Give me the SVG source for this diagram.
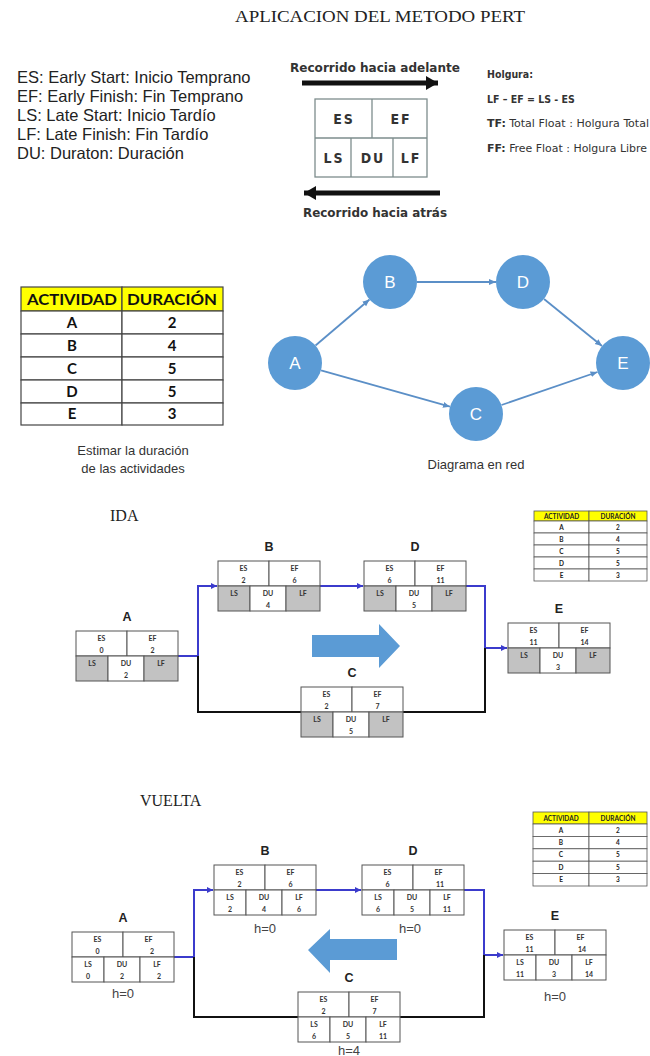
<svg xmlns="http://www.w3.org/2000/svg" width="650" height="1056" viewBox="0 0 650 1056">
<style>
.title{font-family:"Liberation Serif",serif;font-size:16px;fill:#222}
.sec{font-family:"Liberation Serif",serif;font-size:16px;fill:#222}
.leg{font-family:"Liberation Sans",Arial,sans-serif;font-size:16.5px;fill:#222}
.rec{font-family:"DejaVu Sans Condensed","DejaVu Sans",sans-serif;font-weight:bold;font-size:12.5px;fill:#333;text-anchor:middle}
.hol{font-family:"DejaVu Sans Condensed","DejaVu Sans",sans-serif;font-size:10.5px;fill:#333}
.holb{font-weight:bold}
.kb{fill:#fff;stroke:#7d8d8d;stroke-width:1.3}
.kt{font-family:"DejaVu Sans Condensed","DejaVu Sans",sans-serif;font-weight:bold;font-size:14px;fill:#333;text-anchor:middle;letter-spacing:2px}
.tb{fill:#fff;stroke:#444;stroke-width:1.2}
.th{fill:#ffff00;stroke:#444;stroke-width:1.2}
.tt{font-family:Lato,"Open Sans",sans-serif;font-weight:bold;font-size:15px;fill:#111;text-anchor:middle}
.st{font-family:Lato,"Open Sans",sans-serif;font-weight:bold;font-size:6.5px;fill:#222;text-anchor:middle}
.sb{fill:#fff;stroke:#555;stroke-width:0.8}
.sh{fill:#ffff00;stroke:#555;stroke-width:0.8}
.cap{font-family:"Liberation Sans",Arial,sans-serif;font-size:13px;fill:#333;text-anchor:middle}
.circ{fill:#5b9bd5}
.ct{font-family:"Liberation Sans",Arial,sans-serif;font-size:17px;fill:#fff;text-anchor:middle}
.net{stroke:#5b8fc7;stroke-width:1.8;fill:none;marker-end:url(#na)}
.c{fill:#fff;stroke:#555;stroke-width:1}
.g{fill:#c2c2c2;stroke:#555;stroke-width:1}
.t{font-family:Lato,"Open Sans",sans-serif;font-weight:bold;font-size:7px;fill:#333;text-anchor:middle}
.nl{font-family:"Liberation Sans",Arial,sans-serif;font-weight:bold;font-size:12.5px;fill:#222;text-anchor:middle}
.h{font-family:"Liberation Sans",Arial,sans-serif;font-size:13px;fill:#444;text-anchor:middle}
.bl{stroke:#3b3bcc;stroke-width:2;fill:none}
.blk{stroke:#111;stroke-width:2;fill:none}
.big{fill:#5b9bd5}
</style>
<defs>
<marker id="na" markerWidth="8" markerHeight="8" refX="7" refY="4" orient="auto" markerUnits="userSpaceOnUse"><path d="M0,1 L7,4 L0,7 z" fill="#5b8fc7"/></marker>
<marker id="ba" markerWidth="7" markerHeight="7" refX="6" refY="3.5" orient="auto" markerUnits="userSpaceOnUse"><path d="M0,0.5 L6,3.5 L0,6.5 z" fill="#3b3bcc"/></marker>
<marker id="ka" markerWidth="14" markerHeight="14" refX="12" refY="7" orient="auto" markerUnits="userSpaceOnUse"><path d="M0,0 L12,7 L0,14 z" fill="#111"/></marker>
</defs>
<rect width="650" height="1056" fill="#fff"/>

<text class="title" x="380" y="22" text-anchor="middle" textLength="290" lengthAdjust="spacingAndGlyphs">APLICACION DEL METODO PERT</text>

<g id="legend">
<text class="leg" x="17" y="83">ES: Early Start: Inicio Temprano</text>
<text class="leg" x="17" y="102">EF: Early Finish: Fin Temprano</text>
<text class="leg" x="17" y="121">LS: Late Start: Inicio Tardío</text>
<text class="leg" x="17" y="140">LF: Late Finish: Fin Tardío</text>
<text class="leg" x="17" y="159">DU: Duraton: Duración</text>
</g>

<g id="key">
<text class="rec" x="375" y="72" textLength="170" lengthAdjust="spacingAndGlyphs">Recorrido hacia adelante</text>
<line x1="302" y1="83" x2="438" y2="83" stroke="#111" stroke-width="5" marker-end="url(#ka)"/>
<rect class="kb" x="315" y="99" width="112" height="78"/>
<line class="kb" x1="315" y1="138" x2="427" y2="138"/>
<line class="kb" x1="372" y1="99" x2="372" y2="138"/>
<line class="kb" x1="351" y1="138" x2="351" y2="177"/>
<line class="kb" x1="393" y1="138" x2="393" y2="177"/>
<text class="kt" x="344" y="124">ES</text>
<text class="kt" x="401" y="124">EF</text>
<text class="kt" x="334" y="163">LS</text>
<text class="kt" x="373" y="163">DU</text>
<text class="kt" x="411" y="163">LF</text>
<line x1="440" y1="193" x2="304" y2="193" stroke="#111" stroke-width="5" marker-end="url(#ka)"/>
<text class="rec" x="375" y="217" textLength="144" lengthAdjust="spacingAndGlyphs">Recorrido hacia atrás</text>
</g>

<g id="holgura">
<text class="hol holb" x="487" y="78" font-size="11.5">Holgura:</text>
<text class="hol holb" x="487" y="103" font-size="11">LF – EF = LS - ES</text>
<text class="hol" x="487" y="127" textLength="162" lengthAdjust="spacingAndGlyphs"><tspan class="holb">TF:</tspan> Total Float : Holgura Total</text>
<text class="hol" x="487" y="152" textLength="160" lengthAdjust="spacingAndGlyphs"><tspan class="holb">FF:</tspan> Free Float : Holgura Libre</text>
</g>

<g id="tabla">
<rect class="th" x="21" y="287" width="101" height="24"/>
<rect class="th" x="122" y="287" width="101" height="24"/>
<rect class="tb" x="21" y="311" width="101" height="23"/><rect class="tb" x="122" y="311" width="101" height="23"/>
<rect class="tb" x="21" y="334" width="101" height="23"/><rect class="tb" x="122" y="334" width="101" height="23"/>
<rect class="tb" x="21" y="357" width="101" height="23"/><rect class="tb" x="122" y="357" width="101" height="23"/>
<rect class="tb" x="21" y="380" width="101" height="23"/><rect class="tb" x="122" y="380" width="101" height="23"/>
<rect class="tb" x="21" y="403" width="101" height="22"/><rect class="tb" x="122" y="403" width="101" height="22"/>
<text class="tt" x="72" y="305" textLength="90" lengthAdjust="spacingAndGlyphs">ACTIVIDAD</text>
<text class="tt" x="172" y="305" textLength="90" lengthAdjust="spacingAndGlyphs">DURACIÓN</text>
<text class="tt" x="72" y="328">A</text><text class="tt" x="172" y="328">2</text>
<text class="tt" x="72" y="351">B</text><text class="tt" x="172" y="351">4</text>
<text class="tt" x="72" y="374">C</text><text class="tt" x="172" y="374">5</text>
<text class="tt" x="72" y="397">D</text><text class="tt" x="172" y="397">5</text>
<text class="tt" x="72" y="419">E</text><text class="tt" x="172" y="419">3</text>
<text class="cap" x="133" y="455">Estimar la duración</text>
<text class="cap" x="133" y="473">de las actividades</text>
</g>

<g id="red-edges">
<line class="net" x1="315.5" y1="345.5" x2="369.5" y2="299.5"/>
<line class="net" x1="417" y1="282" x2="496" y2="282"/>
<line class="net" x1="544" y1="299" x2="602" y2="346"/>
<line class="net" x1="321" y1="370.3" x2="450" y2="406.7"/>
<line class="net" x1="501.5" y1="405" x2="597.5" y2="372"/>
</g>
<g id="red-A"><circle class="circ" cx="295" cy="363" r="27"/><text class="ct" x="295" y="369">A</text></g>
<g id="red-B"><circle class="circ" cx="390" cy="282" r="27"/><text class="ct" x="390" y="288">B</text></g>
<g id="red-D"><circle class="circ" cx="523" cy="282" r="27"/><text class="ct" x="523" y="288">D</text></g>
<g id="red-E"><circle class="circ" cx="623" cy="363" r="27"/><text class="ct" x="623" y="369">E</text></g>
<g id="red-C"><circle class="circ" cx="476" cy="414" r="27"/><text class="ct" x="476" y="420">C</text></g>
<text class="cap" x="476" y="469" font-size="12">Diagrama en red</text>

<!-- IDA -->
<text class="sec" x="110" y="521">IDA</text>
<g id="ida-tabla">
<rect class="sh" x="534" y="511" width="55" height="10"/><rect class="sh" x="589" y="511" width="58" height="10"/>
<rect class="sb" x="534" y="521" width="55" height="12"/><rect class="sb" x="589" y="521" width="58" height="12"/>
<rect class="sb" x="534" y="533" width="55" height="12"/><rect class="sb" x="589" y="533" width="58" height="12"/>
<rect class="sb" x="534" y="545" width="55" height="12"/><rect class="sb" x="589" y="545" width="58" height="12"/>
<rect class="sb" x="534" y="557" width="55" height="12"/><rect class="sb" x="589" y="557" width="58" height="12"/>
<rect class="sb" x="534" y="569" width="55" height="12"/><rect class="sb" x="589" y="569" width="58" height="12"/>
<text class="st" x="561.5" y="518.5">ACTIVIDAD</text><text class="st" x="618" y="518.5">DURACIÓN</text>
<text class="st" x="561.5" y="529.5">A</text><text class="st" x="618" y="529.5">2</text>
<text class="st" x="561.5" y="541.5">B</text><text class="st" x="618" y="541.5">4</text>
<text class="st" x="561.5" y="553.5">C</text><text class="st" x="618" y="553.5">5</text>
<text class="st" x="561.5" y="565.5">D</text><text class="st" x="618" y="565.5">5</text>
<text class="st" x="561.5" y="577.5">E</text><text class="st" x="618" y="577.5">3</text>
</g>

<g id="ida-conectores">
<path class="bl" d="M178,656 H198 V586 H217" marker-end="url(#ba)"/>
<path class="blk" d="M198,656 V712 H301"/>
<path class="bl" d="M320,586 H363" marker-end="url(#ba)"/>
<path class="bl" d="M466,586 H485 V648 H507" marker-end="url(#ba)"/>
<path class="blk" d="M403,712 H485 V648"/>
</g>
<polygon class="big" points="312,635 379,635 379,624 400,646 379,668 379,657 312,657"/>

<g id="ida-A">
<text class="nl" x="127" y="621">A</text>
<rect class="c" x="76" y="631" width="51" height="25"/><rect class="c" x="127" y="631" width="51" height="25"/>
<rect class="g" x="76" y="656" width="32" height="25"/><rect class="c" x="108" y="656" width="36" height="25"/><rect class="g" x="144" y="656" width="34" height="25"/>
<text class="t" x="101.5" y="640.5">ES</text><text class="t" x="101.5" y="652.5">0</text>
<text class="t" x="152.5" y="640.5">EF</text><text class="t" x="152.5" y="652.5">2</text>
<text class="t" x="92" y="665.5">LS</text><text class="t" x="126" y="665.5">DU</text><text class="t" x="126" y="677.5">2</text><text class="t" x="161" y="665.5">LF</text>
</g>
<g id="ida-B">
<text class="nl" x="269" y="551">B</text>
<rect class="c" x="218" y="561" width="51" height="25"/><rect class="c" x="269" y="561" width="51" height="25"/>
<rect class="g" x="218" y="586" width="32" height="25"/><rect class="c" x="250" y="586" width="36" height="25"/><rect class="g" x="286" y="586" width="34" height="25"/>
<text class="t" x="243.5" y="570.5">ES</text><text class="t" x="243.5" y="582.5">2</text>
<text class="t" x="294.5" y="570.5">EF</text><text class="t" x="294.5" y="582.5">6</text>
<text class="t" x="234" y="595.5">LS</text><text class="t" x="268" y="595.5">DU</text><text class="t" x="268" y="607.5">4</text><text class="t" x="303" y="595.5">LF</text>
</g>
<g id="ida-D">
<text class="nl" x="415" y="551">D</text>
<rect class="c" x="364" y="561" width="51" height="25"/><rect class="c" x="415" y="561" width="51" height="25"/>
<rect class="g" x="364" y="586" width="32" height="25"/><rect class="c" x="396" y="586" width="36" height="25"/><rect class="g" x="432" y="586" width="34" height="25"/>
<text class="t" x="389.5" y="570.5">ES</text><text class="t" x="389.5" y="582.5">6</text>
<text class="t" x="440.5" y="570.5">EF</text><text class="t" x="440.5" y="582.5">11</text>
<text class="t" x="380" y="595.5">LS</text><text class="t" x="414" y="595.5">DU</text><text class="t" x="414" y="607.5">5</text><text class="t" x="449" y="595.5">LF</text>
</g>
<g id="ida-C">
<text class="nl" x="352" y="677">C</text>
<rect class="c" x="301" y="687" width="51" height="25"/><rect class="c" x="352" y="687" width="51" height="25"/>
<rect class="g" x="301" y="712" width="32" height="25"/><rect class="c" x="333" y="712" width="36" height="25"/><rect class="g" x="369" y="712" width="34" height="25"/>
<text class="t" x="326.5" y="696.5">ES</text><text class="t" x="326.5" y="708.5">2</text>
<text class="t" x="377.5" y="696.5">EF</text><text class="t" x="377.5" y="708.5">7</text>
<text class="t" x="317" y="721.5">LS</text><text class="t" x="351" y="721.5">DU</text><text class="t" x="351" y="733.5">5</text><text class="t" x="386" y="721.5">LF</text>
</g>
<g id="ida-E">
<text class="nl" x="559" y="613">E</text>
<rect class="c" x="508" y="623" width="51" height="25"/><rect class="c" x="559" y="623" width="51" height="25"/>
<rect class="g" x="508" y="648" width="32" height="25"/><rect class="c" x="540" y="648" width="36" height="25"/><rect class="g" x="576" y="648" width="34" height="25"/>
<text class="t" x="533.5" y="632.5">ES</text><text class="t" x="533.5" y="644.5">11</text>
<text class="t" x="584.5" y="632.5">EF</text><text class="t" x="584.5" y="644.5">14</text>
<text class="t" x="524" y="657.5">LS</text><text class="t" x="558" y="657.5">DU</text><text class="t" x="558" y="669.5">3</text><text class="t" x="593" y="657.5">LF</text>
</g>

<!-- VUELTA -->
<text class="sec" x="140" y="806">VUELTA</text>
<g id="vuelta-tabla">
<rect class="sh" x="533" y="812" width="56" height="12"/><rect class="sh" x="589" y="812" width="58" height="12"/>
<rect class="sb" x="533" y="824" width="56" height="12.4"/><rect class="sb" x="589" y="824" width="58" height="12.4"/>
<rect class="sb" x="533" y="836.4" width="56" height="12.4"/><rect class="sb" x="589" y="836.4" width="58" height="12.4"/>
<rect class="sb" x="533" y="848.8" width="56" height="12.4"/><rect class="sb" x="589" y="848.8" width="58" height="12.4"/>
<rect class="sb" x="533" y="861.2" width="56" height="12.4"/><rect class="sb" x="589" y="861.2" width="58" height="12.4"/>
<rect class="sb" x="533" y="873.6" width="56" height="12.4"/><rect class="sb" x="589" y="873.6" width="58" height="12.4"/>
<text class="st" x="561" y="820.5">ACTIVIDAD</text><text class="st" x="618" y="820.5">DURACIÓN</text>
<text class="st" x="561" y="832.5">A</text><text class="st" x="618" y="832.5">2</text>
<text class="st" x="561" y="845">B</text><text class="st" x="618" y="845">4</text>
<text class="st" x="561" y="857.4">C</text><text class="st" x="618" y="857.4">5</text>
<text class="st" x="561" y="869.8">D</text><text class="st" x="618" y="869.8">5</text>
<text class="st" x="561" y="882.2">E</text><text class="st" x="618" y="882.2">3</text>
</g>

<g id="vuelta-conectores">
<path class="bl" d="M174,957 H194 V890 H213" marker-end="url(#ba)"/>
<path class="blk" d="M194,957 V1017 H298"/>
<path class="bl" d="M316,890 H361" marker-end="url(#ba)"/>
<path class="bl" d="M464,890 H484 V955 H503" marker-end="url(#ba)"/>
<path class="blk" d="M400,1017 H484 V955"/>
</g>
<polygon class="big" points="397,939 330,939 330,929 308,950 330,973 330,960 397,960"/>

<g id="vuelta-A">
<text class="nl" x="123" y="922">A</text>
<rect class="c" x="72" y="932" width="51" height="25"/><rect class="c" x="123" y="932" width="51" height="25"/>
<rect class="c" x="72" y="957" width="32" height="25"/><rect class="c" x="104" y="957" width="36" height="25"/><rect class="c" x="140" y="957" width="34" height="25"/>
<text class="t" x="97.5" y="941.5">ES</text><text class="t" x="97.5" y="953.5">0</text>
<text class="t" x="148.5" y="941.5">EF</text><text class="t" x="152" y="953.5">2</text>
<text class="t" x="88" y="966.5">LS</text><text class="t" x="88" y="978.5">0</text>
<text class="t" x="122" y="966.5">DU</text><text class="t" x="122" y="978.5">2</text>
<text class="t" x="157" y="966.5">LF</text><text class="t" x="159" y="978.5">2</text>
<text class="h" x="123" y="998">h=0</text>
</g>
<g id="vuelta-B">
<text class="nl" x="265" y="855">B</text>
<rect class="c" x="214" y="865" width="51" height="25"/><rect class="c" x="265" y="865" width="51" height="25"/>
<rect class="c" x="214" y="890" width="32" height="25"/><rect class="c" x="246" y="890" width="36" height="25"/><rect class="c" x="282" y="890" width="34" height="25"/>
<text class="t" x="239.5" y="874.5">ES</text><text class="t" x="239.5" y="886.5">2</text>
<text class="t" x="290.5" y="874.5">EF</text><text class="t" x="290.5" y="886.5">6</text>
<text class="t" x="230" y="899.5">LS</text><text class="t" x="230" y="911.5">2</text>
<text class="t" x="264" y="899.5">DU</text><text class="t" x="264" y="911.5">4</text>
<text class="t" x="299" y="899.5">LF</text><text class="t" x="299" y="911.5">6</text>
<text class="h" x="265" y="933">h=0</text>
</g>
<g id="vuelta-D">
<text class="nl" x="413" y="855">D</text>
<rect class="c" x="362" y="865" width="51" height="25"/><rect class="c" x="413" y="865" width="51" height="25"/>
<rect class="c" x="362" y="890" width="32" height="25"/><rect class="c" x="394" y="890" width="36" height="25"/><rect class="c" x="430" y="890" width="34" height="25"/>
<text class="t" x="387.5" y="874.5">ES</text><text class="t" x="387.5" y="886.5">6</text>
<text class="t" x="438.5" y="874.5">EF</text><text class="t" x="440" y="886.5">11</text>
<text class="t" x="378" y="899.5">LS</text><text class="t" x="378" y="911.5">6</text>
<text class="t" x="412" y="899.5">DU</text><text class="t" x="412" y="911.5">5</text>
<text class="t" x="447" y="899.5">LF</text><text class="t" x="447" y="911.5">11</text>
<text class="h" x="410" y="933">h=0</text>
</g>
<g id="vuelta-C">
<text class="nl" x="349" y="982">C</text>
<rect class="c" x="298" y="992" width="51" height="25"/><rect class="c" x="349" y="992" width="51" height="25"/>
<rect class="c" x="298" y="1017" width="32" height="25"/><rect class="c" x="330" y="1017" width="36" height="25"/><rect class="c" x="366" y="1017" width="34" height="25"/>
<text class="t" x="323.5" y="1001.5">ES</text><text class="t" x="323.5" y="1013.5">2</text>
<text class="t" x="374.5" y="1001.5">EF</text><text class="t" x="374.5" y="1013.5">7</text>
<text class="t" x="314" y="1026.5">LS</text><text class="t" x="314" y="1038.5">6</text>
<text class="t" x="348" y="1026.5">DU</text><text class="t" x="348" y="1038.5">5</text>
<text class="t" x="383" y="1026.5">LF</text><text class="t" x="383" y="1038.5">11</text>
<text class="h" x="349" y="1055">h=4</text>
</g>
<g id="vuelta-E">
<text class="nl" x="555" y="920">E</text>
<rect class="c" x="504" y="930" width="51" height="25"/><rect class="c" x="555" y="930" width="51" height="25"/>
<rect class="c" x="504" y="955" width="32" height="25"/><rect class="c" x="536" y="955" width="36" height="25"/><rect class="c" x="572" y="955" width="34" height="25"/>
<text class="t" x="529.5" y="939.5">ES</text><text class="t" x="529.5" y="951.5">11</text>
<text class="t" x="580.5" y="939.5">EF</text><text class="t" x="582" y="951.5">14</text>
<text class="t" x="520" y="964.5">LS</text><text class="t" x="520" y="976.5">11</text>
<text class="t" x="554" y="964.5">DU</text><text class="t" x="554" y="976.5">3</text>
<text class="t" x="589" y="964.5">LF</text><text class="t" x="589" y="976.5">14</text>
<text class="h" x="555" y="1001">h=0</text>
</g>
</svg>
